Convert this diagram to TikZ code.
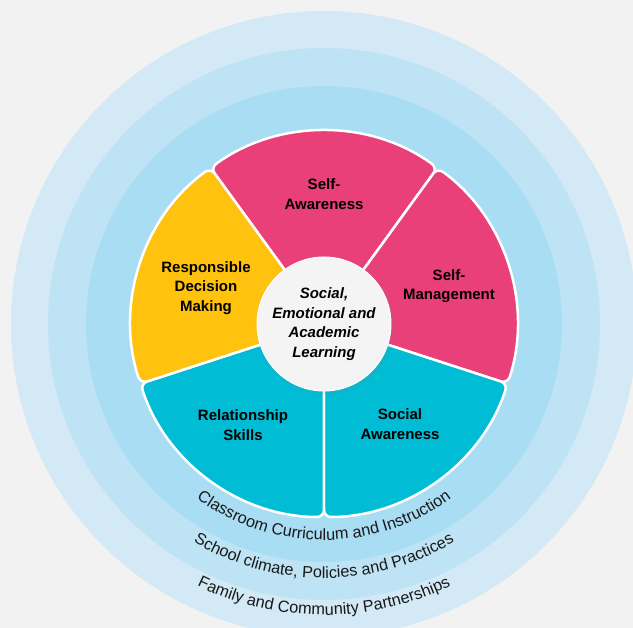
\documentclass[tikz,border=0pt]{standalone}
\usepackage{fontspec}
\setmainfont{Liberation Sans}
\usepackage{tikz}
\usetikzlibrary{decorations.text, shadows}
\definecolor{bggray}{HTML}{F2F2F2}
\definecolor{ringout}{HTML}{D3E9F5}
\definecolor{ringmid}{HTML}{BEE3F4}
\definecolor{ringin}{HTML}{A8DDF4}
\definecolor{segpink}{HTML}{EA407A}
\definecolor{segyellow}{HTML}{FFC20E}
\definecolor{segcyan}{HTML}{00BCD4}
\definecolor{hubgray}{HTML}{F4F4F4}
\newcommand{\ringfont}{\fontsize{16.3}{18}\selectfont}
\tikzset{
	segment/.style={
		draw=white, 
		line width=2.5pt, 
		rounded corners=7pt
	},
	seglabel/.style={
		align=center, 
		text=black, 
		font=\bfseries\fontsize{15}{19.5}\selectfont
	},
	hub/.style={
		circle, 
		minimum size=134pt, 
		inner sep=0pt, 
		align=center, 
		draw=white, 
		line width=1pt, 
		fill=hubgray, 
		font=\bfseries\itshape\fontsize{15}{19.5}\selectfont,
		circular drop shadow={shadow scale=1.05, shadow xshift=1pt, shadow yshift=-1pt, opacity=0.35}
	},
	ringtext/.style={
		decorate, 
		decoration={text along path, text align=center, text color=black!90, text={|\ringfont|#1}}
	}
}

\begin{document}
\begin{tikzpicture}[x=1pt, y=1pt]
	\useasboundingbox (-324,-304) rectangle (309,324);
	\clip (-324,-304) rectangle (309,324);
	\fill[bggray] (-324,-304) rectangle (309,324);
	
	% outer rings
	\fill[ringout] (0,0) circle (313);
	\fill[ringmid] (0,0) circle (276);
	\fill[ringin] (0,0) circle (238);
	
	\path[ringtext={Classroom Curriculum and Instruction}] (200:216) arc[start angle=200, end angle=340, radius=216];
	\path[ringtext={School climate, Policies and Practices}] (200:254) arc[start angle=200, end angle=340, radius=254];
	\path[ringtext={Family and Community Partnerships}] (200:291) arc[start angle=200, end angle=340, radius=291];
	
	% wheel
	\foreach \a/\col in {54/segpink, -18/segpink, -90/segcyan, 198/segcyan, 126/segyellow}
		\filldraw[segment, fill=\col] (0,0) -- (\a:193) arc[start angle=\a, end angle=\a+72, radius=193] -- cycle;
	
	\node (awareness) [seglabel] at (0,130) {Self-\\Awareness};
	\node (management) [seglabel] at (125,38) {Self-\\Management};
	\node (social) [seglabel] at (76,-100) {Social\\Awareness};
	\node (relation) [seglabel] at (-81,-101) {Relationship\\Skills};
	\node (decision) [seglabel] at (-118,36) {Responsible\\Decision\\Making};
	
	\node (sel) [hub] at (0,0) {Social,\\Emotional and\\Academic\\Learning};
\end{tikzpicture}
\end{document}
